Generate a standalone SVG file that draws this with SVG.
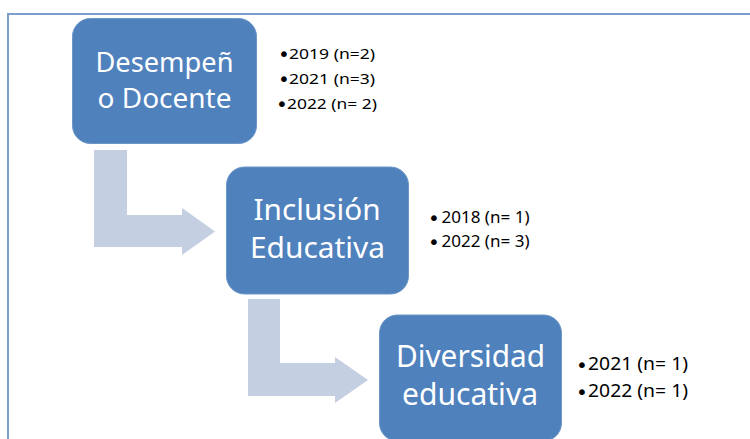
<svg xmlns="http://www.w3.org/2000/svg" width="750" height="439" viewBox="0 0 750 439">
<style>
.box{fill:#4f81bd;stroke:#6d96c8;stroke-width:1}
.bt{font-family:"Noto Sans","Open Sans",sans-serif;fill:#ffffff;text-anchor:middle}
.arrow{fill:#c4cfe2}
.li{font-family:"Noto Sans","Open Sans",sans-serif;fill:#000000}
.bu{font-family:"DejaVu Sans",sans-serif;fill:#000000;font-size:20px;text-anchor:middle}
</style>
<rect width="750" height="439" fill="#ffffff"/>
<path d="M8 439 V14 H750" fill="none" stroke="#7d9ecd" stroke-width="2"/>
<g id="connectors">
<path class="arrow" d="M94 150 H127 V215 H182 V208 L215 231.5 L182 255 V247 H94 Z"/>
<path class="arrow" d="M248 299 H280 V363 H335 V357 L368 380 L335 403 V396 H248 Z"/>
</g>
<g id="node1">
<rect class="box" x="72.5" y="18.5" width="184" height="125" rx="18"/>
<text class="bt" font-size="28" x="164.5" y="72" textLength="138" lengthAdjust="spacingAndGlyphs">Desempeñ</text>
<text class="bt" font-size="28" x="164.5" y="108" textLength="134" lengthAdjust="spacingAndGlyphs">o Docente</text>
</g>
<g id="list1">
<text class="bu" x="284" y="61">•</text>
<text class="li" font-size="15" x="289" y="59" textLength="86" lengthAdjust="spacingAndGlyphs">2019 (n=2)</text>
<text class="bu" x="284" y="86">•</text>
<text class="li" font-size="15" x="289" y="84" textLength="86" lengthAdjust="spacingAndGlyphs">2021 (n=3)</text>
<text class="bu" x="282" y="111">•</text>
<text class="li" font-size="15" x="287" y="109" textLength="90" lengthAdjust="spacingAndGlyphs">2022 (n= 2)</text>
</g>
<g id="node2">
<rect class="box" x="226.5" y="167" width="182" height="127" rx="18"/>
<text class="bt" font-size="29" x="317" y="220" textLength="127" lengthAdjust="spacingAndGlyphs">Inclusión</text>
<text class="bt" font-size="29" x="317.5" y="258" textLength="135" lengthAdjust="spacingAndGlyphs">Educativa</text>
</g>
<g id="list2">
<text class="bu" x="434" y="225">•</text>
<text class="li" font-size="16" x="441.5" y="223" textLength="88" lengthAdjust="spacingAndGlyphs">2018 (n= 1)</text>
<text class="bu" x="434" y="249">•</text>
<text class="li" font-size="16" x="441.5" y="247" textLength="88" lengthAdjust="spacingAndGlyphs">2022 (n= 3)</text>
</g>
<g id="node3">
<rect class="box" x="379.5" y="315" width="182" height="126" rx="18"/>
<text class="bt" font-size="30" x="470.5" y="367" textLength="149" lengthAdjust="spacingAndGlyphs">Diversidad</text>
<text class="bt" font-size="30" x="470" y="405" textLength="136" lengthAdjust="spacingAndGlyphs">educativa</text>
</g>
<g id="list3">
<text class="bu" x="582" y="372">•</text>
<text class="li" font-size="18" x="588" y="370" textLength="100" lengthAdjust="spacingAndGlyphs">2021 (n= 1)</text>
<text class="bu" x="582" y="399">•</text>
<text class="li" font-size="18" x="588" y="397" textLength="100" lengthAdjust="spacingAndGlyphs">2022 (n= 1)</text>
</g>
</svg>
